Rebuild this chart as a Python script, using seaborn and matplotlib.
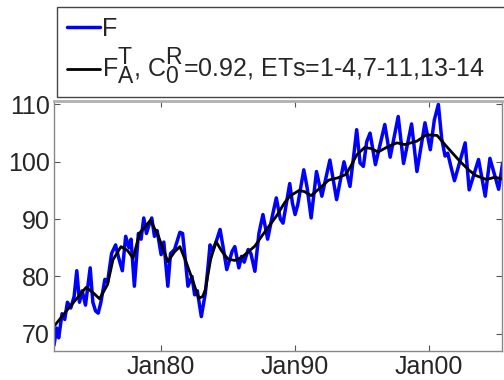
import matplotlib
matplotlib.use('Agg')
import matplotlib.pyplot as plt
import matplotlib.dates as mdates
import numpy as np
import pandas as pd
import seaborn as sns

# blue series F (decimal year, value)
f_years = [1972.0, 1972.2, 1972.35, 1972.6, 1972.8, 1973.0, 1973.25, 1973.5, 1973.7, 1973.9,
           1974.1, 1974.35, 1974.7, 1974.9, 1975.1, 1975.3, 1975.5, 1975.8, 1976.0, 1976.3,
           1976.6, 1976.8, 1977.1, 1977.35, 1977.6, 1977.75, 1978.0, 1978.3, 1978.5, 1978.7,
           1978.9, 1979.1, 1979.3, 1979.5, 1979.7, 1980.0, 1980.2, 1980.5, 1980.7, 1981.0,
           1981.4, 1981.6, 1981.8, 1982.0, 1982.3, 1982.5, 1982.7, 1983.0, 1983.3, 1983.5,
           1983.65, 1983.85, 1984.1, 1984.4, 1984.6, 1984.9, 1985.3, 1985.5, 1985.8, 1986.0,
           1986.2, 1986.5, 1986.7, 1987.0, 1987.3, 1987.6, 1987.95, 1988.3, 1988.6, 1988.9,
           1989.1, 1989.6, 1989.8, 1990.0, 1990.2, 1990.65, 1990.9, 1991.2, 1991.6, 1992.0,
           1992.6, 1993.1, 1993.65, 1994.1, 1994.4, 1994.6, 1994.85, 1995.1, 1995.35, 1995.6,
           1996.0, 1996.7, 1997.1, 1997.7, 1998.1, 1998.7, 1999.1, 1999.7, 2000.1, 2000.4,
           2000.7, 2000.95, 2001.2, 2001.4, 2001.6, 2001.9, 2002.3, 2002.7, 2003.0, 2003.7,
           2004.2, 2004.55, 2005.2, 2005.5]
f_values = [68.0, 71.0, 69.3, 73.5, 72.5, 75.5, 74.5, 76.5, 81.0, 75.5,
            77.5, 75.0, 81.5, 75.5, 74.0, 73.6, 75.5, 79.5, 79.0, 84.0,
            85.5, 83.5, 81.0, 87.0, 85.0, 86.5, 78.3, 87.5, 86.5, 90.2,
            87.5, 89.0, 90.2, 87.0, 88.0, 83.8, 86.0, 78.3, 84.0, 84.7,
            87.7, 87.5, 83.0, 78.3, 80.0, 76.8, 77.5, 73.0, 77.1, 81.7,
            85.5, 84.5, 86.0, 88.2, 85.5, 81.2, 84.4, 85.2, 81.5, 83.5,
            82.5, 84.7, 84.0, 80.9, 87.5, 90.8, 86.5, 90.5, 93.7, 90.0,
            89.3, 96.2, 92.8, 90.8, 92.5, 98.6, 95.5, 90.2, 98.3, 94.0,
            100.3, 93.4, 100.0, 95.7, 101.5, 105.6, 99.8, 99.2, 103.5, 105.0,
            99.5, 106.5, 100.8, 107.9, 99.7, 106.6, 98.3, 106.8, 102.1, 107.3,
            110.0, 104.0, 101.0, 101.5, 99.5, 96.7, 100.0, 103.3, 95.1, 100.4,
            94.0, 100.6, 95.2, 99.8]

# black smooth series F_A^T
fa_years = [1972.0, 1973.0, 1974.0, 1974.4, 1975.0, 1975.4, 1976.0, 1976.4, 1977.0, 1977.5,
            1977.9, 1978.4, 1979.2, 1979.8, 1980.5, 1981.0, 1981.4, 1981.9, 1982.4, 1982.8,
            1983.1, 1983.3, 1983.7, 1984.1, 1984.5, 1985.0, 1985.5, 1986.0, 1986.5, 1987.0,
            1987.5, 1988.0, 1988.6, 1989.2, 1989.6, 1990.3, 1990.7, 1991.2, 1991.8, 1992.5,
            1993.2, 1993.8, 1994.2, 1994.6, 1995.2, 1995.7, 1996.2, 1996.9, 1997.6, 1998.2,
            1999.1, 1999.8, 2000.6, 2001.3, 2002.3, 2003.0, 2003.5, 2004.3, 2004.9, 2005.5]
fa_values = [71.3, 74.2, 77.0, 78.1, 77.0, 76.1, 78.6, 82.9, 85.2, 84.5,
             83.2, 87.6, 89.8, 87.0, 82.6, 84.3, 85.2, 82.3, 79.0, 76.2,
             76.5, 77.7, 83.0, 86.1, 84.5, 83.0, 82.8, 83.3, 84.3, 85.3,
             87.0, 88.6, 90.5, 92.8, 94.0, 95.0, 94.8, 94.1, 95.3, 96.8,
             97.2, 97.8, 99.4, 101.2, 102.5, 102.3, 101.7, 102.6, 103.3, 103.0,
             103.6, 104.7, 104.6, 102.7, 100.1, 98.5, 97.6, 96.9, 97.3, 97.0]

y_ticks = [70, 80, 90, 100, 110]
x_tick_years = [1980, 1990, 2000]


def to_date(y):
    return pd.Timestamp(int(y), 1, 1) + pd.Timedelta(days=(y % 1) * 365.25)


df_f = pd.DataFrame({'date': [to_date(y) for y in f_years], 'value': f_values})
df_fa = pd.DataFrame({'date': [to_date(y) for y in fa_years], 'value': fa_values})

sns.set_style('white')
plt.rcParams['font.family'] = ['Liberation Sans', 'DejaVu Sans']
plt.rcParams['mathtext.fontset'] = 'custom'
plt.rcParams['mathtext.rm'] = 'Liberation Sans'
plt.rcParams['mathtext.it'] = 'Liberation Sans'

# bigger sub/superscripts, closer to the original
try:
    import matplotlib._mathtext as _mt
    _mt.SHRINK_FACTOR = 0.92
except Exception:
    pass

fig = plt.figure(figsize=(5.04, 3.8), dpi=100)
ax = fig.add_axes([54 / 504, 29 / 380, 448 / 504, 250 / 380])

sns.lineplot(data=df_f, x='date', y='value', color='#0000ff', linewidth=2.5,
             estimator=None, sort=False, ax=ax, label='F')
sns.lineplot(data=df_fa, x='date', y='value', color='black', linewidth=2.0,
             estimator=None, sort=False, ax=ax,
             label=r'$\mathrm{F}_\mathrm{A}^\mathrm{T}$, $\mathrm{C}_\mathrm{0}^\mathrm{R}$=0.92, ETs=1-4,7-11,13-14')

ax.set_xlim(to_date(1972.0), to_date(2005.45))
ax.set_ylim(67, 110.6)
ax.set_yticks(y_ticks)
ax.set_xticks([pd.Timestamp(y, 1, 1) for y in x_tick_years])
ax.xaxis.set_major_formatter(mdates.DateFormatter('%b%y'))
ax.set_xlabel('')
ax.set_ylabel('')
ax.tick_params(direction='in', length=4, width=0.8, color='#555555', labelsize=18,
               top=True, right=True, bottom=True, left=True, pad=3)
for s in ax.spines.values():
    s.set_color('#888888')
    s.set_linewidth(1.0)
ax.spines['top'].set_color('#b0b0b0')
ax.spines['top'].set_linewidth(2.0)

handles, labels = ax.get_legend_handles_labels()
ax.get_legend().remove()
leg = fig.legend(handles, labels, loc='upper left',
                 bbox_to_anchor=(57 / 504, 1 - 97 / 380, 500 / 504, 90 / 380), mode='expand',
                 fontsize=18, frameon=True, fancybox=False, framealpha=1,
                 edgecolor='#444444', handlelength=1.3, handletextpad=0.1,
                 borderpad=0.4, labelspacing=0.2, borderaxespad=0)
leg.get_frame().set_linewidth(1.0)

fig.savefig('out.png', dpi=100)
